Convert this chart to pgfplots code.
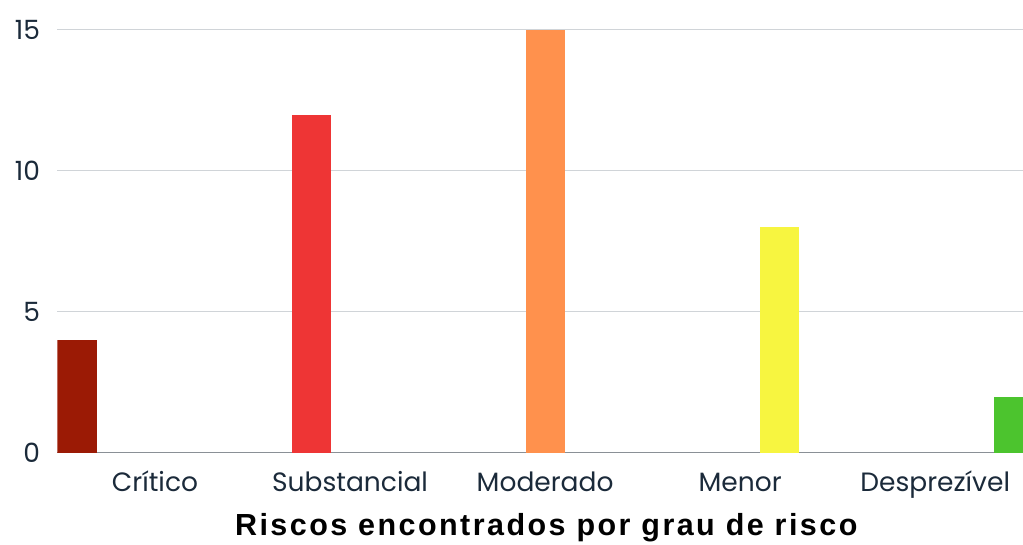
\documentclass[border=0pt]{standalone}
\usepackage{pgfplots}
\pgfplotsset{compat=1.18}
\usepackage{fontspec}
\setmainfont{Poppins}
\newfontfamily\titlefont[LetterSpace=8]{Liberation Sans}
\definecolor{tickc}{HTML}{1B2A3A}
\definecolor{gridc}{HTML}{D0D4D8}
\definecolor{axc}{HTML}{8A9096}
\definecolor{c1}{HTML}{9B1A05}
\definecolor{c2}{HTML}{EE3535}
\definecolor{c3}{HTML}{FF914D}
\definecolor{c4}{HTML}{F7F540}
\definecolor{c5}{HTML}{4CC42E}
\begin{document}
\begin{tikzpicture}
\begin{axis}[
  scale only axis,
  width=965.5pt, height=423pt,
  xmin=-0.5, xmax=4.45,
  ymin=0, ymax=15,
  ytick={0,5,10,15},
  xtick={0,1,2,3,4},
  xticklabels={Crítico,Substancial,Moderado,Menor,Desprezível},
  /pgf/number format/assume math mode=true,
  major tick length=0pt,
  axis x line*=bottom,
  axis y line*=left,
  y axis line style={draw=none},
  x axis line style={draw=axc, line width=1pt, -},
  ymajorgrids,
  grid style={draw=gridc, line width=1pt},
  ticklabel style={font=\fontsize{26.5}{30}\selectfont, text=tickc},
  yticklabel style={anchor=east, xshift=-14pt},
  xticklabel style={anchor=north, yshift=-28pt, text height=0.72em, text depth=0.2em},
  xlabel={\titlefont\bfseries Riscos encontrados por grau de risco},
  xlabel style={font=\fontsize{30.5}{34}\selectfont, text=black, yshift=-13pt, xshift=6pt},
  clip=true,
]
\addplot[ybar, bar width=0.2, bar shift=0pt, fill=c1, draw=none] coordinates {(-0.4,4)};
\addplot[ybar, bar width=0.2, bar shift=0pt, fill=c2, draw=none] coordinates {(0.8,12)};
\addplot[ybar, bar width=0.2, bar shift=0pt, fill=c3, draw=none] coordinates {(2.0,15)};
\addplot[ybar, bar width=0.2, bar shift=0pt, fill=c4, draw=none] coordinates {(3.2,8)};
\addplot[ybar, bar width=0.2, bar shift=0pt, fill=c5, draw=none] coordinates {(4.4,2)};
\end{axis}
\pgfresetboundingbox
\path[use as bounding box] ([xshift=-57.5pt,yshift=-92pt]current axis.south west) rectangle ([yshift=30pt]current axis.north east);
\end{tikzpicture}
\end{document}
